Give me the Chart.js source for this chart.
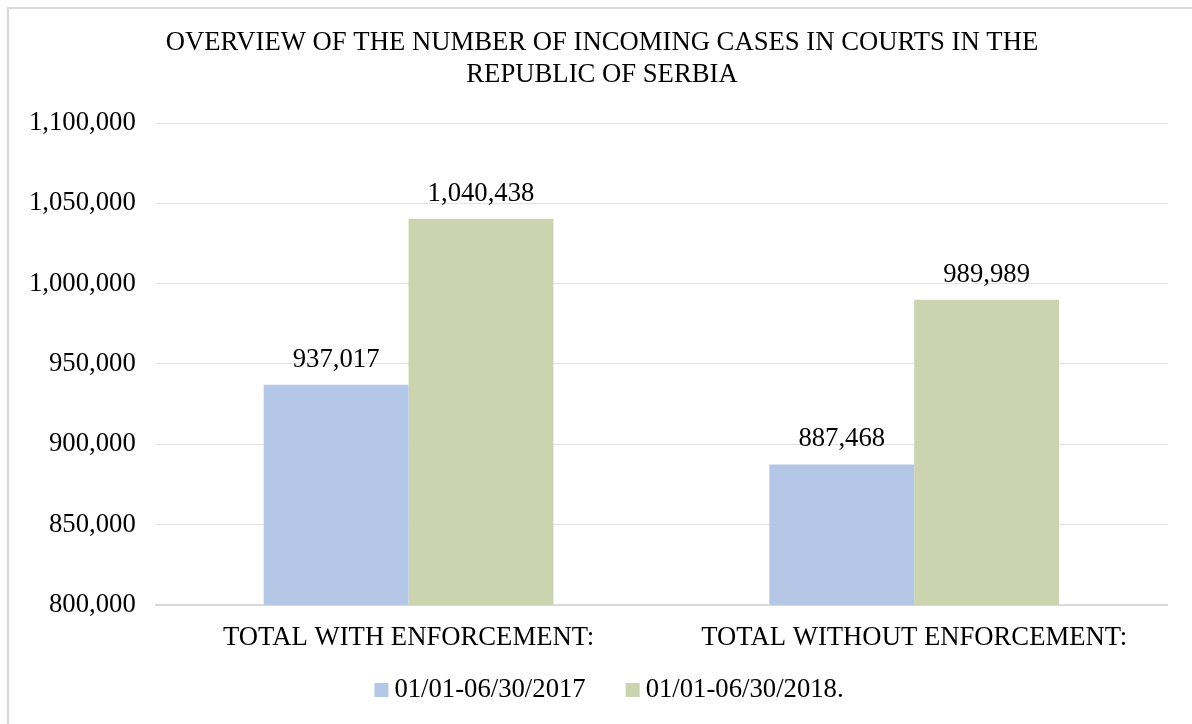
<!DOCTYPE html>
<html>
<head>
<meta charset="utf-8">
<script src="https://cdn.jsdelivr.net/npm/chart.js@4"></script>
<style>
  body { margin: 0; background: #fff; }
  #wrap { position: absolute; left: 0; top: 0; width: 1192px; height: 724px; }
</style>
</head>
<body>
<div id="wrap"><canvas id="chart" width="1192" height="724"></canvas></div>
<script>
var categories = ['TOTAL WITH ENFORCEMENT:', 'TOTAL WITHOUT ENFORCEMENT:'];
var seriesNames = ['01/01-06/30/2017', '01/01-06/30/2018.'];
var values2017 = [937017, 887468];
var values2018 = [1040438, 989989];
var titleLines = ['OVERVIEW OF THE NUMBER OF INCOMING CASES IN COURTS IN THE', 'REPUBLIC OF SERBIA'];

var FS = 26.7;
var FONT = FS + 'px "Liberation Serif", "Times New Roman", serif';
var fmt = function(v) { return v.toLocaleString('en-US'); };

// frame around the picture (only left/top edges show)
var framePlugin = {
  id: 'frame',
  beforeDraw: function(chart) {
    var c = chart.ctx;
    c.save();
    c.strokeStyle = '#D9D9D9';
    c.lineWidth = 2;
    c.strokeRect(8, 8, 1200, 740);
    c.restore();
  }
};

// title centred on the whole picture, like Excel does
var topTitle = {
  id: 'topTitle',
  afterDraw: function(chart) {
    var c = chart.ctx;
    c.save();
    c.font = FONT;
    c.fillStyle = '#000';
    c.textAlign = 'center';
    c.textBaseline = 'middle';
    titleLines.forEach(function(line, i) {
      c.fillText(line, 602, 43 + i * 32);
    });
    c.restore();
  }
};

// numbers above the bars
var valueLabels = {
  id: 'valueLabels',
  afterDatasetsDraw: function(chart) {
    var c = chart.ctx;
    c.save();
    c.font = FONT;
    c.fillStyle = '#000';
    c.textAlign = 'center';
    c.textBaseline = 'middle';
    chart.data.datasets.forEach(function(ds, i) {
      chart.getDatasetMeta(i).data.forEach(function(bar, j) {
        c.fillText(fmt(ds.data[j]), bar.x, bar.y - 25);
      });
    });
    c.restore();
  }
};

// legend drawn by hand so box/text gaps match the Excel look
var bottomLegend = {
  id: 'bottomLegend',
  afterDraw: function(chart) {
    var c = chart.ctx;
    var box = 14, gap = 6, spacing = 40, y = 690;
    c.save();
    c.font = FONT;
    var items = chart.data.datasets.map(function(ds) {
      return { text: ds.label, color: ds.backgroundColor, w: c.measureText(ds.label).width };
    });
    var total = 0;
    items.forEach(function(it, i) { total += box + gap + it.w + (i ? spacing : 0); });
    var x = 609 - total / 2;
    c.textBaseline = 'middle';
    c.textAlign = 'left';
    items.forEach(function(it) {
      c.fillStyle = it.color;
      c.fillRect(x, y - box / 2, box, box);
      c.fillStyle = '#000';
      c.fillText(it.text, x + box + gap, y);
      x += box + gap + it.w + spacing;
    });
    c.restore();
  }
};

Chart.defaults.font.family = '"Liberation Serif", "Times New Roman", serif';
Chart.defaults.font.size = FS;
Chart.defaults.color = '#000';

new Chart(document.getElementById('chart').getContext('2d'), {
  type: 'bar',
  data: {
    labels: categories,
    datasets: [
      { label: seriesNames[0], data: values2017, backgroundColor: '#B4C7E7', barPercentage: 1, categoryPercentage: 0.573 },
      { label: seriesNames[1], data: values2018, backgroundColor: '#CBD4AE', barPercentage: 1, categoryPercentage: 0.573 }
    ]
  },
  options: {
    responsive: false,
    animation: false,
    layout: { padding: { left: 9, right: 25, top: 123, bottom: 61 } },
    plugins: {
      title: { display: false },
      legend: { display: false },
      tooltip: { enabled: false }
    },
    scales: {
      x: {
        grid: { display: false },
        border: { color: '#D9D9D9', width: 2 },
        ticks: { padding: 9, font: { size: FS } }
      },
      y: {
        min: 800000,
        max: 1100000,
        ticks: { stepSize: 50000, padding: 20, font: { size: FS }, callback: function(v) { return fmt(v); } },
        grid: { color: '#E3E3E3', lineWidth: 1, drawTicks: false },
        border: { display: false }
      }
    }
  },
  plugins: [framePlugin, valueLabels, topTitle, bottomLegend]
});
</script>
</body>
</html>
